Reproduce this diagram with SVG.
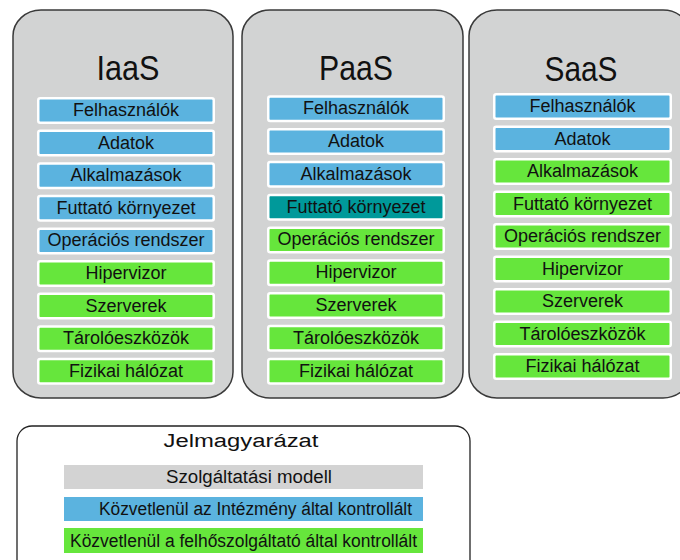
<svg xmlns="http://www.w3.org/2000/svg" width="680" height="560" viewBox="0 0 680 560">
<style>
.panel{fill:#D2D3D3;stroke:#3a3a3a;stroke-width:1.5}
.row{stroke:#ffffff;stroke-width:2.5}
.b{fill:#5BB3DF}
.g{fill:#66E63C}
.t{fill:#00999A}
.rt{font-family:"Liberation Sans",Arial,sans-serif;font-size:18px;fill:#111;text-anchor:middle}
.title{font-family:"Liberation Sans",Arial,sans-serif;font-size:35px;fill:#111;text-anchor:middle}
.lt{font-family:"Liberation Sans",Arial,sans-serif;font-size:18px;fill:#111}
</style>
<rect width="680" height="560" fill="#ffffff"/>

<g id="iaas">
<rect class="panel" x="13" y="10" width="220" height="388" rx="28" ry="26"/>
<text class="title" x="128" y="80" textLength="63" lengthAdjust="spacingAndGlyphs">IaaS</text>
<g transform="translate(38.25,98.25)">
<rect class="row b" x="0" y="0" width="175.5" height="24.5" rx="2"/>
<rect class="row b" x="0" y="32.6" width="175.5" height="24.5" rx="2"/>
<rect class="row b" x="0" y="65.2" width="175.5" height="24.5" rx="2"/>
<rect class="row b" x="0" y="97.8" width="175.5" height="24.5" rx="2"/>
<rect class="row b" x="0" y="130.4" width="175.5" height="24.5" rx="2"/>
<rect class="row g" x="0" y="163" width="175.5" height="24.5" rx="2"/>
<rect class="row g" x="0" y="195.6" width="175.5" height="24.5" rx="2"/>
<rect class="row g" x="0" y="228.2" width="175.5" height="24.5" rx="2"/>
<rect class="row g" x="0" y="260.8" width="175.5" height="24.5" rx="2"/>
</g>
<g transform="translate(126,116)">
<text class="rt" y="0">Felhasználók</text>
<text class="rt" y="32.6">Adatok</text>
<text class="rt" y="65.2">Alkalmazások</text>
<text class="rt" y="97.8">Futtató környezet</text>
<text class="rt" y="130.4">Operációs rendszer</text>
<text class="rt" y="163">Hipervizor</text>
<text class="rt" y="195.6">Szerverek</text>
<text class="rt" y="228.2">Tárolóeszközök</text>
<text class="rt" y="260.8">Fizikai hálózat</text>
</g>
</g>

<g id="paas">
<rect class="panel" x="242" y="10" width="221" height="388" rx="28" ry="26"/>
<text class="title" x="356" y="80" textLength="74" lengthAdjust="spacingAndGlyphs">PaaS</text>
<g transform="translate(268.25,96.5)">
<rect class="row b" x="0" y="0" width="175.5" height="24.5" rx="2"/>
<rect class="row b" x="0" y="32.8" width="175.5" height="24.5" rx="2"/>
<rect class="row b" x="0" y="65.6" width="175.5" height="24.5" rx="2"/>
<rect class="row t" x="0" y="98.4" width="175.5" height="24.5" rx="2"/>
<rect class="row g" x="0" y="131.2" width="175.5" height="24.5" rx="2"/>
<rect class="row g" x="0" y="164" width="175.5" height="24.5" rx="2"/>
<rect class="row g" x="0" y="196.8" width="175.5" height="24.5" rx="2"/>
<rect class="row g" x="0" y="229.6" width="175.5" height="24.5" rx="2"/>
<rect class="row g" x="0" y="262.4" width="175.5" height="24.5" rx="2"/>
</g>
<g transform="translate(356,114.3)">
<text class="rt" y="0">Felhasználók</text>
<text class="rt" y="32.8">Adatok</text>
<text class="rt" y="65.6">Alkalmazások</text>
<text class="rt" y="98.4">Futtató környezet</text>
<text class="rt" y="131.2">Operációs rendszer</text>
<text class="rt" y="164">Hipervizor</text>
<text class="rt" y="196.8">Szerverek</text>
<text class="rt" y="229.6">Tárolóeszközök</text>
<text class="rt" y="262.4">Fizikai hálózat</text>
</g>
</g>

<g id="saas">
<rect class="panel" x="469" y="10" width="222" height="388" rx="28" ry="26"/>
<text class="title" x="581" y="81" textLength="73" lengthAdjust="spacingAndGlyphs">SaaS</text>
<g transform="translate(494.25,94.25)">
<rect class="row b" x="0" y="0" width="176.5" height="24.5" rx="2"/>
<rect class="row b" x="0" y="32.5" width="176.5" height="24.5" rx="2"/>
<rect class="row g" x="0" y="65" width="176.5" height="24.5" rx="2"/>
<rect class="row g" x="0" y="97.5" width="176.5" height="24.5" rx="2"/>
<rect class="row g" x="0" y="130" width="176.5" height="24.5" rx="2"/>
<rect class="row g" x="0" y="162.5" width="176.5" height="24.5" rx="2"/>
<rect class="row g" x="0" y="195" width="176.5" height="24.5" rx="2"/>
<rect class="row g" x="0" y="227.5" width="176.5" height="24.5" rx="2"/>
<rect class="row g" x="0" y="260" width="176.5" height="24.5" rx="2"/>
</g>
<g transform="translate(582.5,112)">
<text class="rt" y="0">Felhasználók</text>
<text class="rt" y="32.5">Adatok</text>
<text class="rt" y="65">Alkalmazások</text>
<text class="rt" y="97.5">Futtató környezet</text>
<text class="rt" y="130">Operációs rendszer</text>
<text class="rt" y="162.5">Hipervizor</text>
<text class="rt" y="195">Szerverek</text>
<text class="rt" y="227.5">Tárolóeszközök</text>
<text class="rt" y="260">Fizikai hálózat</text>
</g>
</g>

<g id="legend">
<rect x="17" y="426" width="453" height="160" rx="15" fill="#ffffff" stroke="#222" stroke-width="1.3"/>
<text class="lt" x="241" y="447" font-size="24" text-anchor="middle" textLength="155" lengthAdjust="spacingAndGlyphs">Jelmagyarázat</text>
<rect x="64" y="465" width="359" height="24" fill="#D3D3D3"/>
<rect x="64" y="497" width="359" height="24" fill="#5BB3DF"/>
<rect x="64" y="528" width="359" height="25" fill="#66E63C"/>
<text class="lt" x="166" y="483" textLength="166" lengthAdjust="spacingAndGlyphs">Szolgáltatási modell</text>
<text class="lt" x="99" y="515" textLength="313" lengthAdjust="spacingAndGlyphs">Közvetlenül az Intézmény által kontrollált</text>
<text class="lt" x="70" y="547" textLength="347" lengthAdjust="spacingAndGlyphs">Közvetlenül a felhőszolgáltató által kontrollált</text>
</g>
</svg>
